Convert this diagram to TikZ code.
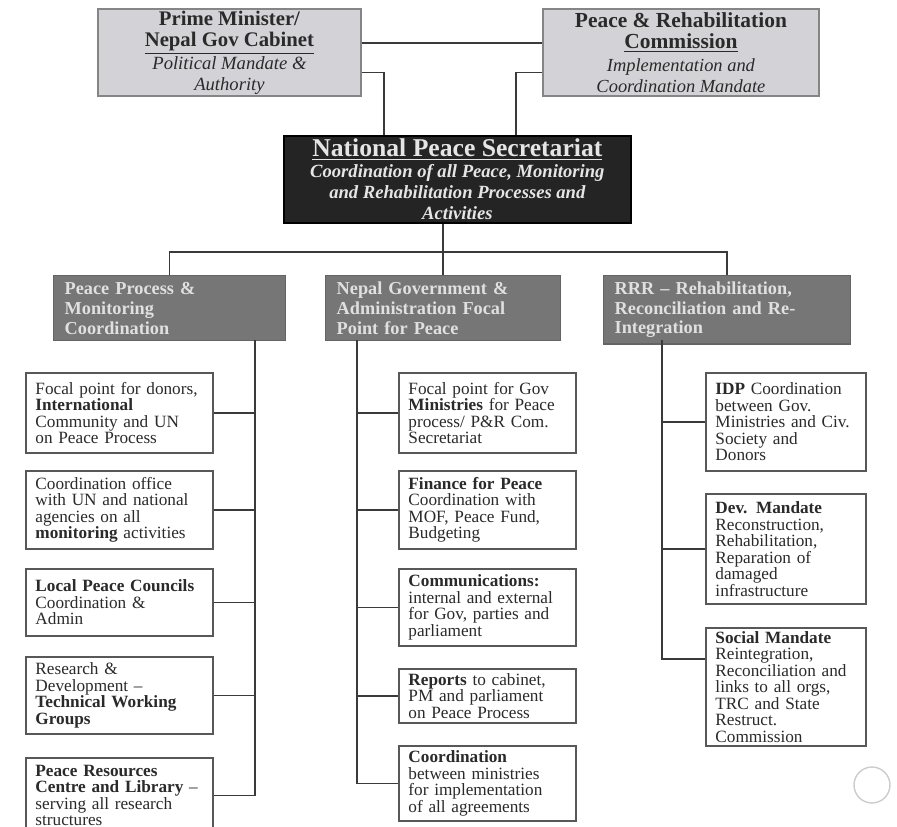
\documentclass[tikz,border=0pt]{standalone}
\usepackage{fontspec}
\setmainfont{Liberation Serif}
\usepackage{xcolor}
\usetikzlibrary{positioning}
\definecolor{npsBoard}{HTML}{D3D3D7}
\definecolor{npsEdge}{HTML}{858585}
\definecolor{npsBlack}{HTML}{242424}
\definecolor{npsDesk}{HTML}{767676}
\definecolor{npsLine}{HTML}{3A3A3A}
\definecolor{npsInk}{HTML}{2A2A2A}
\tikzset{
  board/.style={draw=npsEdge,fill=npsBoard,line width=1.1pt,align=center,inner sep=1pt,anchor=north west,text=npsInk},
  secretariat/.style={draw=black,fill=npsBlack,line width=1pt,align=center,inner sep=1pt,anchor=north west,text=white!90!black},
  desk/.style={draw=npsDesk!85!black,fill=npsDesk,line width=0.8pt,align=left,inner xsep=0.22cm,anchor=north west,text=white!88!black,font=\fontsize{10.4}{11.3}\selectfont\bfseries,minimum height=1.3cm},
  task/.style={draw=npsLine!85,fill=white,line width=1.1pt,align=left,inner xsep=0.19cm,inner ysep=1pt,anchor=north west,text=npsInk,font=\fontsize{9.8}{9.4}\selectfont},
  link/.style={draw=npsLine,line width=0.85pt}
}

\begin{document}
\begin{tikzpicture}[x=0.02cm,y=-0.02cm]
\newcommand{\taskbox}[6]{%
  \node[task,text width=#4,minimum height=#5] (#1) at (#2,#3) {#6};
}
\useasboundingbox (0,0) rectangle (897,827);

\node[board,minimum width=5.26cm,minimum height=1.74cm] (pm) at (97,8)
  {\fontsize{11.8}{10.4}\selectfont\bfseries Prime Minister/\\
   \fontsize{11.8}{10.4}\selectfont\bfseries\underline{Nepal Gov Cabinet}\\[1pt]
   \fontsize{10.6}{10}\selectfont\itshape Political Mandate \&\\
   \fontsize{10.6}{10}\selectfont\itshape Authority};
\node[board,minimum width=5.52cm,minimum height=1.74cm] (prc) at (542,8)
  {\fontsize{12.2}{10.4}\selectfont\bfseries Peace \& Rehabilitation\\
   \fontsize{12.2}{10.4}\selectfont\bfseries\underline{Commission}\\[1pt]
   \fontsize{10.5}{10}\selectfont\itshape Implementation and\\
   \fontsize{10.5}{10}\selectfont\itshape Coordination Mandate};
\node[secretariat,minimum width=6.94cm,minimum height=1.74cm] (nps) at (283,135)
  {\fontsize{14.6}{12.5}\selectfont\bfseries\underline{National Peace Secretariat}\\
   \fontsize{10.6}{9.8}\selectfont\bfseries\itshape Coordination of all Peace, Monitoring\\
   \fontsize{10.6}{9.8}\selectfont\bfseries\itshape and Rehabilitation Processes and\\
   \fontsize{10.6}{9.8}\selectfont\bfseries\itshape Activities};

\node[desk,text width=4.2cm] (pp) at (53,275)
  {Peace Process \&\\ Monitoring\\ Coordination};
\node[desk,text width=4.26cm] (ngov) at (325,275)
  {Nepal Government \&\\ Administration Focal\\ Point for Peace};
\node[desk,text width=4.5cm] (rrr) at (603,275)
  {RRR -- Rehabilitation,\\ Reconciliation and Re-\\ Integration};

\draw[link] ([yshift=0.19cm]pm.east) -- ([yshift=0.19cm]prc.west);
\draw[link] ([yshift=-0.4cm]pm.east) -| ([xshift=-1.47cm]nps.north);
\draw[link] ([yshift=-0.4cm]prc.west) -| ([xshift=1.17cm]nps.north);
\coordinate (bus) at (0,252);
\draw[link] (ngov.north) -- (ngov.north |- nps.south);
\draw[link] (pp.north) |- (bus -| ngov.north) -| (rrr.north);

\taskbox{l1}{25}{372}{3.36cm}{1.6cm}{Focal point for donors,\\ \textbf{International}\\ Community and UN\\ on Peace Process}
\taskbox{l2}{25}{470}{3.36cm}{1.56cm}{Coordination office\\ with UN and national\\ agencies on all\\ \textbf{monitoring} activities}
\taskbox{l3}{25}{568}{3.36cm}{1.34cm}{\textbf{Local Peace Councils}\\ Coordination \&\\ Admin}
\taskbox{l4}{25}{656}{3.36cm}{1.54cm}{Research \&\\ Development --\\ \textbf{Technical Working}\\ \textbf{Groups}}
\taskbox{l5}{25}{757}{3.36cm}{1.5cm}{\textbf{Peace Resources}\\ \textbf{Centre and Library} --\\ serving all research\\ structures}

\taskbox{m1}{398}{372}{3.16cm}{1.6cm}{Focal point for Gov\\ \textbf{Ministries} for Peace\\ process/ P\&R Com.\\ Secretariat}
\taskbox{m2}{398}{470}{3.16cm}{1.56cm}{\textbf{Finance for Peace}\\ Coordination with\\ MOF, Peace Fund,\\ Budgeting}
\taskbox{m3}{398}{568}{3.16cm}{1.54cm}{\textbf{Communications:}\\ internal and external\\ for Gov, parties and\\ parliament}
\taskbox{m4}{398}{668}{3.16cm}{1.08cm}{\textbf{Reports} to cabinet,\\ PM and parliament\\ on Peace Process}
\taskbox{m5}{398}{745}{3.16cm}{1.5cm}{\textbf{Coordination}\\ between ministries\\ for implementation\\ of all agreements}

\taskbox{r1}{705}{372}{2.82cm}{1.96cm}{\textbf{IDP} Coordination\\ between Gov.\\ Ministries and Civ.\\ Society and\\ Donors}
\taskbox{r2}{705}{493}{2.82cm}{2.2cm}{\textbf{Dev. Mandate}\\ Reconstruction,\\ Rehabilitation,\\ Reparation of\\ damaged\\ infrastructure}
\taskbox{r3}{705}{627}{2.82cm}{2.36cm}{\textbf{Social Mandate}\\ Reintegration,\\ Reconciliation and\\ links to all orgs,\\ TRC and State\\ Restruct.\\ Commission}

\coordinate (ltop) at (255,340);
\coordinate (mtop) at (357,340);
\coordinate (rtop) at (662,340);
\foreach \n in {l1,l2,l3,l4} {
  \draw[link] (\n.east) -- (\n.east -| ltop);
}
\draw[link] (ltop) |- (l5.east);
\foreach \n in {m1,m2,m3,m4} {
  \draw[link] (\n.west) -- (\n.west -| mtop);
}
\draw[link] (mtop) |- (m5.west);
\foreach \n in {r1,r2} {
  \draw[link] (\n.west) -- (\n.west -| rtop);
}
\draw[link] (rtop) |- ([yshift=0.56cm]r3.west);

\draw[black!20,line width=0.8pt] (872,785) circle (0.36cm);
\end{tikzpicture}
\end{document}
